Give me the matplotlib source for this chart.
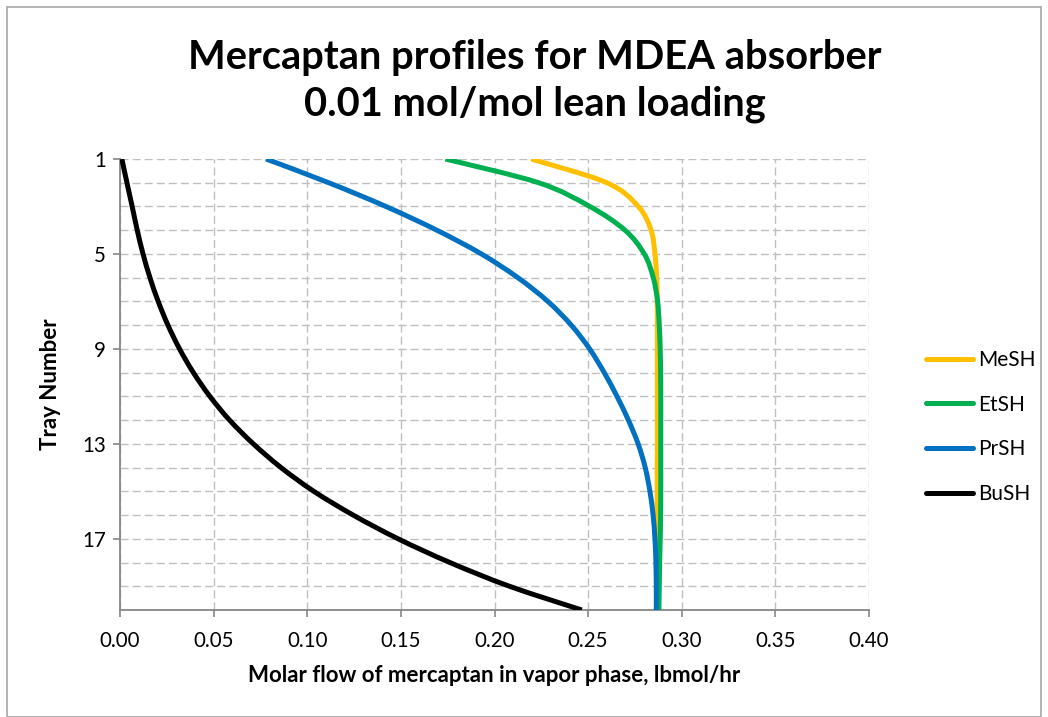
import matplotlib
matplotlib.use("Agg")
import matplotlib.pyplot as plt
from matplotlib.patches import Rectangle, PathPatch
from matplotlib.path import Path
from matplotlib.lines import Line2D

plt.rcParams['font.family'] = ['Lato', 'DejaVu Sans']

trays = list(range(1, 21))
mesh = [0.2196, 0.2600, 0.2768, 0.2836, 0.2857, 0.2866, 0.2869, 0.2870, 0.2870, 0.2870,
        0.2870, 0.2870, 0.2870, 0.2869, 0.2869, 0.2868, 0.2868, 0.2867, 0.2867, 0.2866]
etsh = [0.1738, 0.2236, 0.2509, 0.2697, 0.2800, 0.2848, 0.2871, 0.2880, 0.2885, 0.2887,
        0.2888, 0.2888, 0.2888, 0.2888, 0.2888, 0.2887, 0.2885, 0.2882, 0.2880, 0.2878]
prsh = [0.0780, 0.1115, 0.1420, 0.1692, 0.1930, 0.2125, 0.2285, 0.2410, 0.2508, 0.2586,
        0.2654, 0.2715, 0.2767, 0.2805, 0.2830, 0.2847, 0.2857, 0.2862, 0.2864, 0.2864]
bush = [0.0010, 0.0037, 0.0065, 0.0092, 0.0123, 0.0160, 0.0204, 0.0256, 0.0318, 0.0392,
        0.0480, 0.0585, 0.0712, 0.0860, 0.1035, 0.1245, 0.1485, 0.1762, 0.2080, 0.2466]

series_names = ["MeSH", "EtSH", "PrSH", "BuSH"]
series_values = [mesh, etsh, prsh, bush]
series_colors = ["#FFC000", "#00B050", "#0070C0", "#000000"]

x_ticks = [0.00, 0.05, 0.10, 0.15, 0.20, 0.25, 0.30, 0.35, 0.40]
y_major_ticks = [1, 5, 9, 13, 17]


def smooth_path(xs, ys):
    """Smoothed line through the data points (like a spreadsheet 'smoothed line')."""
    pts = list(zip(xs, ys))
    n = len(pts)
    verts = [pts[0]]
    codes = [Path.MOVETO]
    for i in range(n - 1):
        p0 = pts[i - 1] if i > 0 else pts[i]
        p1 = pts[i]
        p2 = pts[i + 1]
        p3 = pts[i + 2] if i + 2 < n else pts[i + 1]
        c1 = (p1[0] + (p2[0] - p0[0]) / 6.0, p1[1] + (p2[1] - p0[1]) / 6.0)
        c2 = (p2[0] - (p3[0] - p1[0]) / 6.0, p2[1] - (p3[1] - p1[1]) / 6.0)
        verts += [c1, c2, p2]
        codes += [Path.CURVE4] * 3
    return Path(verts, codes)


W, H = 1048, 717
fig = plt.figure(figsize=(W / 100, H / 100), dpi=100)
ax = fig.add_axes([120 / W, 1 - 610 / H, (869 - 120) / W, (610 - 159) / H])

handles = []
for name, vals, col in zip(series_names, series_values, series_colors):
    patch = PathPatch(smooth_path(vals, trays), fill=False, edgecolor=col, lw=3.6,
                      capstyle='butt', joinstyle='round', zorder=3)
    ax.add_patch(patch)
    handles.append(Line2D([], [], color=col, lw=3.6, solid_capstyle='round', label=name))

ax.set_xlim(0, 0.40)
ax.set_ylim(20, 1)
ax.set_xticks(x_ticks)
ax.set_xticklabels([f"{v:.2f}" for v in x_ticks])
ax.set_yticks(y_major_ticks)
ax.set_yticks(trays, minor=True)
ax.tick_params(axis='both', which='major', direction='out', length=5, width=1.2,
               color='#868686', labelsize=14.8, labelcolor='#000000')
ax.tick_params(axis='x', which='major', pad=10)
ax.tick_params(axis='y', which='major', pad=5)
ax.tick_params(axis='y', which='minor', length=0)

grid_kw = dict(color='#BFBFBF', lw=1.0, ls=(0, (5.8, 2.9)), zorder=0)
ax.grid(True, which='both', axis='y', **grid_kw)
ax.grid(True, which='major', axis='x', **grid_kw)

for s in ['top', 'right']:
    ax.spines[s].set_visible(False)
for s in ['left', 'bottom']:
    ax.spines[s].set_color('#868686')
    ax.spines[s].set_linewidth(1.3)

ax.set_xlabel("Molar flow of mercaptan in vapor phase, lbmol/hr", fontsize=16,
              fontweight='bold')
ax.xaxis.label.set_va('center')
ax.xaxis.set_label_coords(0.5, (610 - 675) / (610 - 159))
ax.set_ylabel("Tray Number", fontsize=16, fontweight='bold')
ax.yaxis.label.set_va('center')
ax.yaxis.set_label_coords((50 - 120) / (869 - 120), 0.5)

fig.text(535 / W, 1 - 81 / H, "Mercaptan profiles for MDEA absorber\n0.01 mol/mol lean loading",
         ha='center', va='center', fontsize=28.7, fontweight='bold', linespacing=1.32)

leg = ax.legend(handles=handles, loc='center left', bbox_to_anchor=(926 / W, 1 - 427 / H),
                bbox_transform=fig.transFigure, frameon=False, fontsize=15,
                handlelength=2.25, handletextpad=0.25, labelspacing=1.19,
                borderaxespad=0, borderpad=0)

fig.add_artist(Rectangle((7 / W, 0), (1041 - 7) / W, 1 - 7 / H, transform=fig.transFigure,
                         fill=False, edgecolor='#A6A6A6', lw=1.2))

fig.savefig("out.png", dpi=100, facecolor='white')
